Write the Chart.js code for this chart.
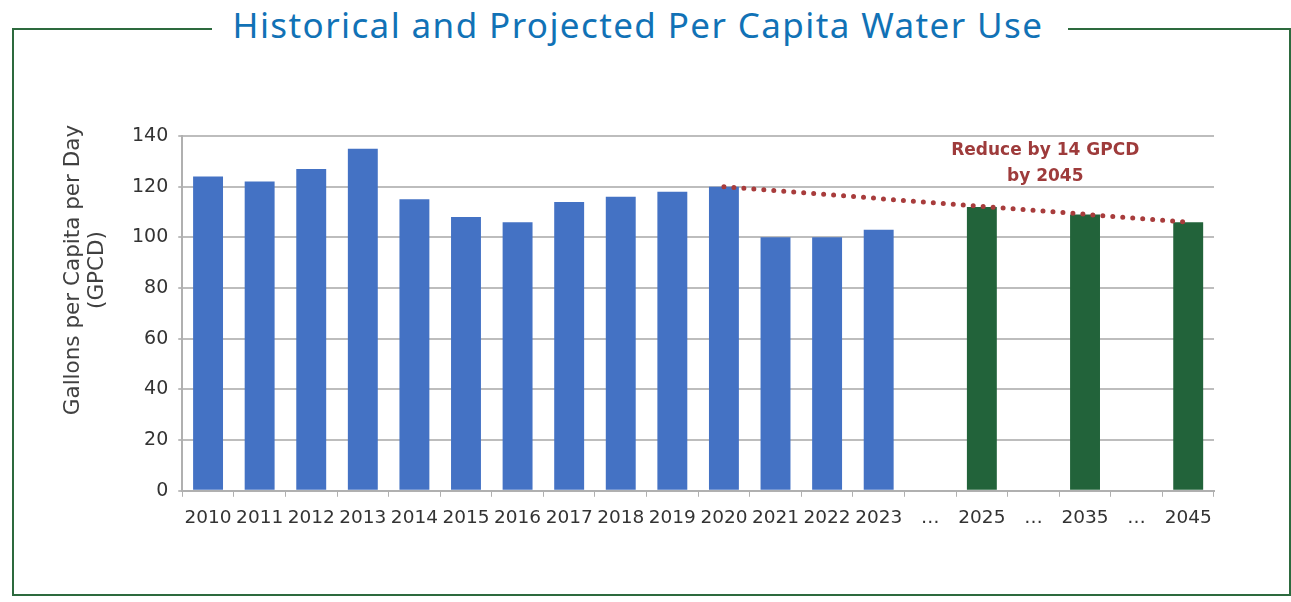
<!DOCTYPE html>
<html>
<head>
<meta charset="utf-8">
<script src="https://cdn.jsdelivr.net/npm/chart.js@4.4.1/dist/chart.umd.min.js"></script>
<style>
  html, body { margin:0; padding:0; background:#fff; }
  #wrap { position:relative; width:1291px; height:602px; overflow:hidden; }
  .frame { position:absolute; left:12px; top:28px; width:1275px; height:566px;
           border-left:2px solid #2d6a3e; border-right:2px solid #2d6a3e; border-bottom:2px solid #2d6a3e; }
  .topl { position:absolute; top:28px; height:2px; background:#2d6a3e; }
  #title { position:absolute; left:0; width:1276px; top:1px; text-align:center; letter-spacing:1.4px;
           font-family:"Noto Sans", sans-serif; font-size:35px; font-weight:400; color:#1172b6; }
  canvas { position:absolute; left:0; top:0; }
</style>
</head>
<body>
<div id="wrap">
  <div class="frame"></div>
  <div class="topl" style="left:12px;width:200px"></div>
  <div class="topl" style="left:1068px;width:223px"></div>
  <div id="title">Historical and Projected Per Capita Water Use</div>
  <canvas id="c" width="1291" height="602"></canvas>
</div>
<script>
// categories along the x axis
const years = ['2010','2011','2012','2013','2014','2015','2016','2017','2018','2019','2020','2021','2022','2023','…','2025','…','2035','…','2045'];
// historical per capita use (GPCD)
const historical = [124,122,127,135,115,108,106,114,116,118,120,100,100,103,null,null,null,null,null,null];
// projected per capita use (GPCD)
const projected = [null,null,null,null,null,null,null,null,null,null,null,null,null,null,null,112,null,109,null,106];
// reduction target line: 2020 -> 2045
const target = [null,null,null,null,null,null,null,null,null,null,120,null,null,null,null,null,null,null,null,106];
const yTicks = [0,20,40,60,80,100,120,140];
const noteLines = ['Reduce by 14 GPCD','by 2045'];
const yTitle = ['Gallons per Capita per Day','(GPCD)'];

const FONT = '"DejaVu Sans", sans-serif';

const extras = {
  id: 'extras',
  afterDatasetsDraw(chart){
    const ctx = chart.ctx;
    const x = chart.scales.x, y = chart.scales.y;
    ctx.save();
    // annotation
    ctx.fillStyle = '#9e3b3b';
    ctx.font = 'bold 17px ' + FONT;
    ctx.textAlign = 'center';
    ctx.textBaseline = 'middle';
    const cx = (x.getPixelForValue(16) + x.getPixelForValue(17)) / 2 - 14;
    ctx.fillText(noteLines[0], cx, y.getPixelForValue(134.3));
    ctx.fillText(noteLines[1], cx, y.getPixelForValue(124));
    // y axis title
    ctx.fillStyle = '#404040';
    ctx.font = '21.5px ' + FONT;
    ctx.translate(73, 270);
    ctx.rotate(-Math.PI/2);
    ctx.fillText(yTitle[0], 0, 0);
    ctx.fillText(yTitle[1], 0, 24);
    ctx.restore();
  }
};

new Chart(document.getElementById('c'), {
  type: 'bar',
  data: {
    labels: years,
    datasets: [
      { label: 'Target', type: 'line', data: target, spanGaps: true, order: 0,
        borderColor: '#a83c3c', borderWidth: 5, borderDash: [0, 10], borderCapStyle: 'round',
        pointRadius: 0, fill: false },
      { label: 'Historical', data: historical, backgroundColor: '#4472c4', order: 1,
        skipNull: true, barPercentage: 0.58, categoryPercentage: 1 },
      { label: 'Projected', data: projected, backgroundColor: '#22633a', order: 1,
        skipNull: true, barPercentage: 0.58, categoryPercentage: 1 }
    ]
  },
  options: {
    responsive: false,
    animation: false,
    layout: { padding: { left: 122, right: 77, top: 136, bottom: 63 } },
    plugins: { legend: { display: false }, tooltip: { enabled: false } },
    scales: {
      x: {
        grid: { drawOnChartArea: false, drawTicks: true, tickLength: 6, color: '#b0b0b0', lineWidth: 1 },
        border: { color: '#b0b0b0', width: 2 },
        ticks: { color: '#333', font: { family: FONT, size: 18.5 }, padding: 10, maxRotation: 0, autoSkip: false }
      },
      y: {
        min: 0, max: 140,
        afterBuildTicks(s){ s.ticks = yTicks.map(v => ({ value: v })); },
        grid: { color: '#bdbdbd', lineWidth: 2, tickLength: 4 },
        border: { color: '#b0b0b0', width: 2 },
        ticks: { color: '#333', font: { family: FONT, size: 19 }, padding: 10 }
      }
    }
  },
  plugins: [extras]
});
</script>
</body>
</html>
